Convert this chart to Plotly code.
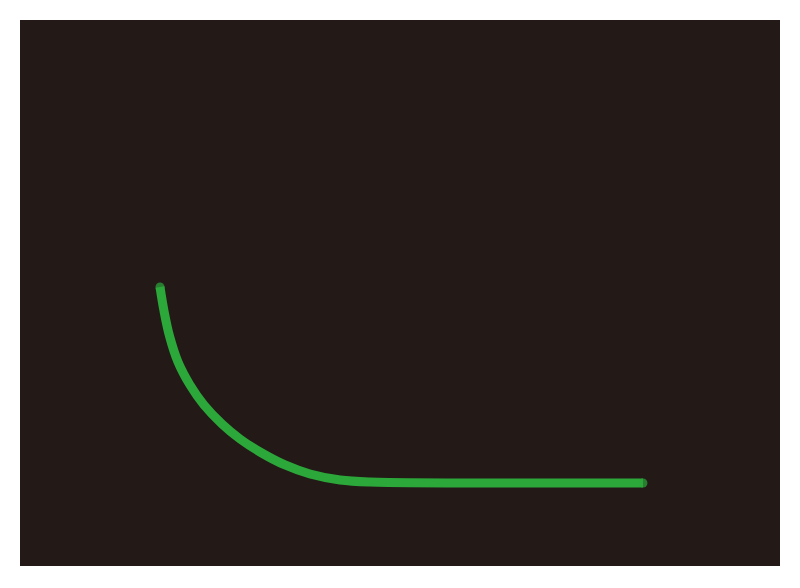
import plotly.graph_objects as go

# values (axes hidden, range 0..10 both ways)
x_vals = [1.842, 1.895, 1.967, 2.079, 2.237, 2.421, 2.658, 2.895, 3.158,
          3.487, 3.816, 4.211, 4.605, 7.921, 8.197]
y_vals = [5.110, 4.670, 4.212, 3.736, 3.315, 2.949, 2.601, 2.326, 2.088,
          1.850, 1.685, 1.575, 1.538, 1.520, 1.520]

# round ends: a dot only at the first and last point
end_sizes = [9] + [0] * (len(x_vals) - 2) + [9]

fig = go.Figure()
fig.add_trace(go.Scatter(
    x=x_vals, y=y_vals,
    mode="lines+markers",
    line=dict(color="#2ca83a", width=9, shape="spline", smoothing=1.0),
    marker=dict(color="#2ca83a", size=end_sizes, line=dict(width=0)),
    hoverinfo="skip",
))

fig.update_layout(
    width=784, height=572,
    margin=dict(l=12, r=12, t=12, b=14),
    paper_bgcolor="white",
    plot_bgcolor="#231a18",
    showlegend=False,
    xaxis=dict(range=[0, 10], visible=False, fixedrange=True),
    yaxis=dict(range=[0, 10], visible=False, fixedrange=True),
)

fig.write_html("out.html")
